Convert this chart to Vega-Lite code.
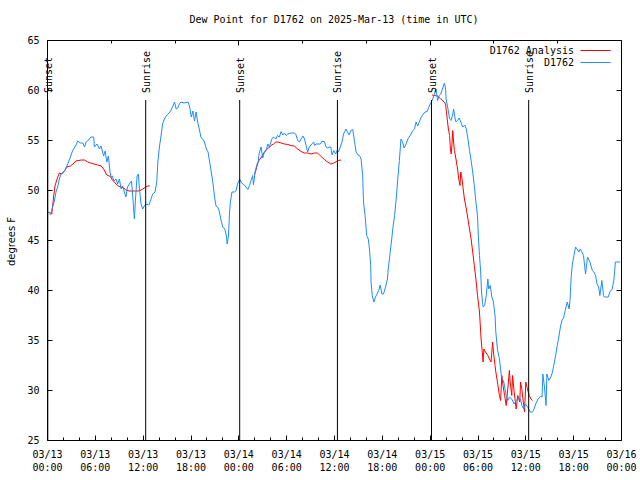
{
"$schema": "https://vega.github.io/schema/vega-lite/v6.json",
"width": 574, "height": 400,
"autosize": {"type": "none"},
"padding": {"left": 47, "top": 40, "right": 19, "bottom": 40},
"background": "white",
"title": {"text": "Dew Point for D1762 on 2025-Mar-13 (time in UTC)", "font": "DejaVu Sans Mono", "fontSize": 10, "fontWeight": "normal", "color": "black", "anchor": "middle", "offset": 10},
"config": {
  "view": {"stroke": "black", "strokeWidth": 1},
  "axis": {"domain": false, "grid": false, "labelFont": "DejaVu Sans Mono", "labelFontSize": 10, "labelColor": "black", "tickColor": "black", "labelFlush": false, "labelOverlap": false}
},
"datasets": {
"obs": [
{"h":0.3,"v":47.6,"s":"D1762 Analysis","g":"r1"},{"h":0.6,"v":47.6,"s":"D1762 Analysis","g":"r1"},{"h":0.84,"v":49.4,"s":"D1762 Analysis","g":"r1"},{"h":1.0,"v":50.4,"s":"D1762 Analysis","g":"r1"},{"h":1.26,"v":51.1,"s":"D1762 Analysis","g":"r1"},{"h":1.55,"v":51.7,"s":"D1762 Analysis","g":"r1"},{"h":1.84,"v":51.6,"s":"D1762 Analysis","g":"r1"},{"h":2.2,"v":51.9,"s":"D1762 Analysis","g":"r1"},{"h":2.5,"v":52.3,"s":"D1762 Analysis","g":"r1"},{"h":2.93,"v":52.4,"s":"D1762 Analysis","g":"r1"},{"h":3.4,"v":52.7,"s":"D1762 Analysis","g":"r1"},{"h":3.6,"v":52.9,"s":"D1762 Analysis","g":"r1"},{"h":4.3,"v":53.0,"s":"D1762 Analysis","g":"r1"},{"h":4.7,"v":53.0,"s":"D1762 Analysis","g":"r1"},{"h":5.1,"v":52.8,"s":"D1762 Analysis","g":"r1"},{"h":5.5,"v":52.7,"s":"D1762 Analysis","g":"r1"},{"h":5.9,"v":52.6,"s":"D1762 Analysis","g":"r1"},{"h":6.36,"v":52.5,"s":"D1762 Analysis","g":"r1"},{"h":6.8,"v":52.4,"s":"D1762 Analysis","g":"r1"},{"h":7.1,"v":52.1,"s":"D1762 Analysis","g":"r1"},{"h":7.3,"v":51.8,"s":"D1762 Analysis","g":"r1"},{"h":7.5,"v":51.5,"s":"D1762 Analysis","g":"r1"},{"h":7.8,"v":51.4,"s":"D1762 Analysis","g":"r1"},{"h":8.0,"v":51.3,"s":"D1762 Analysis","g":"r1"},{"h":8.2,"v":51.0,"s":"D1762 Analysis","g":"r1"},{"h":8.45,"v":50.8,"s":"D1762 Analysis","g":"r1"},{"h":8.66,"v":50.6,"s":"D1762 Analysis","g":"r1"},{"h":8.95,"v":50.4,"s":"D1762 Analysis","g":"r1"},{"h":9.3,"v":50.3,"s":"D1762 Analysis","g":"r1"},{"h":9.6,"v":50.2,"s":"D1762 Analysis","g":"r1"},{"h":9.9,"v":50.0,"s":"D1762 Analysis","g":"r1"},{"h":10.3,"v":49.9,"s":"D1762 Analysis","g":"r1"},{"h":10.96,"v":49.9,"s":"D1762 Analysis","g":"r1"},{"h":11.4,"v":49.9,"s":"D1762 Analysis","g":"r1"},{"h":11.8,"v":50.0,"s":"D1762 Analysis","g":"r1"},{"h":12.2,"v":50.2,"s":"D1762 Analysis","g":"r1"},{"h":12.6,"v":50.4,"s":"D1762 Analysis","g":"r1"},{"h":12.9,"v":50.4,"s":"D1762 Analysis","g":"r1"},
{"h":26.0,"v":51.5,"s":"D1762 Analysis","g":"r2"},{"h":26.2,"v":51.95,"s":"D1762 Analysis","g":"r2"},{"h":26.4,"v":52.6,"s":"D1762 Analysis","g":"r2"},{"h":26.6,"v":52.95,"s":"D1762 Analysis","g":"r2"},{"h":26.9,"v":53.3,"s":"D1762 Analysis","g":"r2"},{"h":27.2,"v":53.7,"s":"D1762 Analysis","g":"r2"},{"h":27.5,"v":54.05,"s":"D1762 Analysis","g":"r2"},{"h":27.8,"v":54.2,"s":"D1762 Analysis","g":"r2"},{"h":28.1,"v":54.45,"s":"D1762 Analysis","g":"r2"},{"h":28.4,"v":54.6,"s":"D1762 Analysis","g":"r2"},{"h":28.7,"v":54.8,"s":"D1762 Analysis","g":"r2"},{"h":29.0,"v":54.8,"s":"D1762 Analysis","g":"r2"},{"h":29.36,"v":54.7,"s":"D1762 Analysis","g":"r2"},{"h":29.8,"v":54.6,"s":"D1762 Analysis","g":"r2"},{"h":30.2,"v":54.55,"s":"D1762 Analysis","g":"r2"},{"h":30.6,"v":54.45,"s":"D1762 Analysis","g":"r2"},{"h":31.0,"v":54.4,"s":"D1762 Analysis","g":"r2"},{"h":31.45,"v":54.1,"s":"D1762 Analysis","g":"r2"},{"h":31.87,"v":53.85,"s":"D1762 Analysis","g":"r2"},{"h":32.3,"v":53.7,"s":"D1762 Analysis","g":"r2"},{"h":32.7,"v":53.7,"s":"D1762 Analysis","g":"r2"},{"h":33.1,"v":53.6,"s":"D1762 Analysis","g":"r2"},{"h":33.55,"v":53.7,"s":"D1762 Analysis","g":"r2"},{"h":33.9,"v":53.7,"s":"D1762 Analysis","g":"r2"},{"h":34.2,"v":53.5,"s":"D1762 Analysis","g":"r2"},{"h":34.46,"v":53.3,"s":"D1762 Analysis","g":"r2"},{"h":34.8,"v":53.05,"s":"D1762 Analysis","g":"r2"},{"h":35.1,"v":52.85,"s":"D1762 Analysis","g":"r2"},{"h":35.4,"v":52.7,"s":"D1762 Analysis","g":"r2"},{"h":35.6,"v":52.6,"s":"D1762 Analysis","g":"r2"},{"h":35.97,"v":52.7,"s":"D1762 Analysis","g":"r2"},{"h":36.3,"v":52.85,"s":"D1762 Analysis","g":"r2"},{"h":36.55,"v":52.95,"s":"D1762 Analysis","g":"r2"},{"h":36.9,"v":53.0,"s":"D1762 Analysis","g":"r2"},
{"h":48.3,"v":59.5,"s":"D1762 Analysis","g":"r3"},{"h":48.6,"v":59.45,"s":"D1762 Analysis","g":"r3"},{"h":49.0,"v":59.4,"s":"D1762 Analysis","g":"r3"},{"h":49.4,"v":59.1,"s":"D1762 Analysis","g":"r3"},{"h":49.8,"v":58.8,"s":"D1762 Analysis","g":"r3"},{"h":50.0,"v":58.6,"s":"D1762 Analysis","g":"r3"},{"h":50.06,"v":58.1,"s":"D1762 Analysis","g":"r3"},{"h":50.2,"v":57.1,"s":"D1762 Analysis","g":"r3"},{"h":50.35,"v":56.1,"s":"D1762 Analysis","g":"r3"},{"h":50.5,"v":55.45,"s":"D1762 Analysis","g":"r3"},{"h":50.6,"v":54.1,"s":"D1762 Analysis","g":"r3"},{"h":50.7,"v":53.6,"s":"D1762 Analysis","g":"r3"},{"h":50.8,"v":54.6,"s":"D1762 Analysis","g":"r3"},{"h":50.9,"v":55.95,"s":"D1762 Analysis","g":"r3"},{"h":51.0,"v":54.8,"s":"D1762 Analysis","g":"r3"},{"h":51.1,"v":53.95,"s":"D1762 Analysis","g":"r3"},{"h":51.3,"v":53.1,"s":"D1762 Analysis","g":"r3"},{"h":51.5,"v":52.1,"s":"D1762 Analysis","g":"r3"},{"h":51.65,"v":51.1,"s":"D1762 Analysis","g":"r3"},{"h":51.8,"v":50.45,"s":"D1762 Analysis","g":"r3"},{"h":51.9,"v":51.8,"s":"D1762 Analysis","g":"r3"},{"h":52.0,"v":51.45,"s":"D1762 Analysis","g":"r3"},{"h":52.15,"v":50.45,"s":"D1762 Analysis","g":"r3"},{"h":52.36,"v":49.1,"s":"D1762 Analysis","g":"r3"},{"h":52.6,"v":48.1,"s":"D1762 Analysis","g":"r3"},{"h":52.8,"v":47.1,"s":"D1762 Analysis","g":"r3"},{"h":53.0,"v":46.1,"s":"D1762 Analysis","g":"r3"},{"h":53.2,"v":45.1,"s":"D1762 Analysis","g":"r3"},{"h":53.4,"v":43.8,"s":"D1762 Analysis","g":"r3"},{"h":53.6,"v":42.45,"s":"D1762 Analysis","g":"r3"},{"h":53.8,"v":41.1,"s":"D1762 Analysis","g":"r3"},{"h":54.0,"v":39.45,"s":"D1762 Analysis","g":"r3"},{"h":54.25,"v":37.8,"s":"D1762 Analysis","g":"r3"},{"h":54.45,"v":35.1,"s":"D1762 Analysis","g":"r3"},{"h":54.6,"v":33.8,"s":"D1762 Analysis","g":"r3"},{"h":54.7,"v":32.8,"s":"D1762 Analysis","g":"r3"},{"h":54.8,"v":34.1,"s":"D1762 Analysis","g":"r3"},{"h":55.0,"v":33.8,"s":"D1762 Analysis","g":"r3"},{"h":55.3,"v":33.45,"s":"D1762 Analysis","g":"r3"},{"h":55.5,"v":33.1,"s":"D1762 Analysis","g":"r3"},{"h":55.7,"v":32.8,"s":"D1762 Analysis","g":"r3"},{"h":55.9,"v":34.8,"s":"D1762 Analysis","g":"r3"},{"h":56.0,"v":33.8,"s":"D1762 Analysis","g":"r3"},{"h":56.2,"v":32.45,"s":"D1762 Analysis","g":"r3"},{"h":56.3,"v":31.8,"s":"D1762 Analysis","g":"r3"},{"h":56.5,"v":30.8,"s":"D1762 Analysis","g":"r3"},{"h":56.75,"v":29.45,"s":"D1762 Analysis","g":"r3"},{"h":56.9,"v":28.95,"s":"D1762 Analysis","g":"r3"},{"h":57.05,"v":31.45,"s":"D1762 Analysis","g":"r3"},{"h":57.2,"v":30.45,"s":"D1762 Analysis","g":"r3"},{"h":57.4,"v":29.45,"s":"D1762 Analysis","g":"r3"},{"h":57.6,"v":28.45,"s":"D1762 Analysis","g":"r3"},{"h":57.8,"v":30.1,"s":"D1762 Analysis","g":"r3"},{"h":58.0,"v":31.95,"s":"D1762 Analysis","g":"r3"},{"h":58.1,"v":30.8,"s":"D1762 Analysis","g":"r3"},{"h":58.3,"v":29.45,"s":"D1762 Analysis","g":"r3"},{"h":58.4,"v":31.45,"s":"D1762 Analysis","g":"r3"},{"h":58.6,"v":29.8,"s":"D1762 Analysis","g":"r3"},{"h":58.85,"v":28.1,"s":"D1762 Analysis","g":"r3"},{"h":59.05,"v":29.45,"s":"D1762 Analysis","g":"r3"},{"h":59.3,"v":28.8,"s":"D1762 Analysis","g":"r3"},{"h":59.4,"v":30.8,"s":"D1762 Analysis","g":"r3"},{"h":59.56,"v":30.1,"s":"D1762 Analysis","g":"r3"},{"h":59.7,"v":29.1,"s":"D1762 Analysis","g":"r3"},{"h":59.9,"v":27.8,"s":"D1762 Analysis","g":"r3"},{"h":60.06,"v":30.8,"s":"D1762 Analysis","g":"r3"},{"h":60.3,"v":29.95,"s":"D1762 Analysis","g":"r3"},{"h":60.5,"v":29.45,"s":"D1762 Analysis","g":"r3"},{"h":60.7,"v":29.1,"s":"D1762 Analysis","g":"r3"},{"h":60.9,"v":28.95,"s":"D1762 Analysis","g":"r3"},
{"h":0.08,"v":47.8,"s":"D1762","g":"b"},{"h":0.5,"v":47.7,"s":"D1762","g":"b"},{"h":0.7,"v":48.3,"s":"D1762","g":"b"},{"h":0.9,"v":48.8,"s":"D1762","g":"b"},{"h":1.13,"v":49.8,"s":"D1762","g":"b"},{"h":1.34,"v":50.3,"s":"D1762","g":"b"},{"h":1.55,"v":51.1,"s":"D1762","g":"b"},{"h":1.76,"v":51.6,"s":"D1762","g":"b"},{"h":2.0,"v":51.8,"s":"D1762","g":"b"},{"h":2.26,"v":52.0,"s":"D1762","g":"b"},{"h":2.6,"v":52.6,"s":"D1762","g":"b"},{"h":2.93,"v":53.3,"s":"D1762","g":"b"},{"h":3.2,"v":53.9,"s":"D1762","g":"b"},{"h":3.64,"v":54.5,"s":"D1762","g":"b"},{"h":3.85,"v":54.9,"s":"D1762","g":"b"},{"h":4.2,"v":54.7,"s":"D1762","g":"b"},{"h":4.5,"v":54.7,"s":"D1762","g":"b"},{"h":4.7,"v":54.3,"s":"D1762","g":"b"},{"h":4.9,"v":54.8,"s":"D1762","g":"b"},{"h":5.1,"v":54.9,"s":"D1762","g":"b"},{"h":5.5,"v":55.3,"s":"D1762","g":"b"},{"h":5.86,"v":55.3,"s":"D1762","g":"b"},{"h":5.94,"v":54.3,"s":"D1762","g":"b"},{"h":6.28,"v":54.6,"s":"D1762","g":"b"},{"h":6.57,"v":54.1,"s":"D1762","g":"b"},{"h":6.78,"v":54.4,"s":"D1762","g":"b"},{"h":7.1,"v":53.4,"s":"D1762","g":"b"},{"h":7.3,"v":53.9,"s":"D1762","g":"b"},{"h":7.5,"v":52.8,"s":"D1762","g":"b"},{"h":7.7,"v":53.4,"s":"D1762","g":"b"},{"h":7.9,"v":51.8,"s":"D1762","g":"b"},{"h":8.03,"v":51.3,"s":"D1762","g":"b"},{"h":8.2,"v":51.4,"s":"D1762","g":"b"},{"h":8.4,"v":50.9,"s":"D1762","g":"b"},{"h":8.66,"v":51.1,"s":"D1762","g":"b"},{"h":8.87,"v":50.6,"s":"D1762","g":"b"},{"h":9.08,"v":51.1,"s":"D1762","g":"b"},{"h":9.3,"v":50.1,"s":"D1762","g":"b"},{"h":9.5,"v":50.4,"s":"D1762","g":"b"},{"h":9.7,"v":49.8,"s":"D1762","g":"b"},{"h":9.9,"v":49.3,"s":"D1762","g":"b"},{"h":10.1,"v":50.3,"s":"D1762","g":"b"},{"h":10.33,"v":50.6,"s":"D1762","g":"b"},{"h":10.6,"v":50.9,"s":"D1762","g":"b"},{"h":10.75,"v":49.4,"s":"D1762","g":"b"},{"h":10.96,"v":47.1,"s":"D1762","g":"b"},{"h":11.1,"v":49.1,"s":"D1762","g":"b"},{"h":11.3,"v":51.4,"s":"D1762","g":"b"},{"h":11.46,"v":51.6,"s":"D1762","g":"b"},{"h":11.6,"v":50.1,"s":"D1762","g":"b"},{"h":11.8,"v":48.6,"s":"D1762","g":"b"},{"h":12.0,"v":48.1,"s":"D1762","g":"b"},{"h":12.2,"v":48.4,"s":"D1762","g":"b"},{"h":12.4,"v":48.6,"s":"D1762","g":"b"},{"h":12.8,"v":48.5,"s":"D1762","g":"b"},{"h":13.05,"v":49.1,"s":"D1762","g":"b"},{"h":13.26,"v":49.6,"s":"D1762","g":"b"},{"h":13.55,"v":49.8,"s":"D1762","g":"b"},{"h":13.77,"v":50.8,"s":"D1762","g":"b"},{"h":13.9,"v":52.8,"s":"D1762","g":"b"},{"h":14.1,"v":54.3,"s":"D1762","g":"b"},{"h":14.3,"v":55.4,"s":"D1762","g":"b"},{"h":14.5,"v":56.6,"s":"D1762","g":"b"},{"h":14.73,"v":57.1,"s":"D1762","g":"b"},{"h":14.94,"v":57.4,"s":"D1762","g":"b"},{"h":15.2,"v":57.6,"s":"D1762","g":"b"},{"h":15.5,"v":57.9,"s":"D1762","g":"b"},{"h":15.8,"v":58.4,"s":"D1762","g":"b"},{"h":16.0,"v":58.8,"s":"D1762","g":"b"},{"h":16.2,"v":58.1,"s":"D1762","g":"b"},{"h":16.4,"v":58.2,"s":"D1762","g":"b"},{"h":16.6,"v":58.6,"s":"D1762","g":"b"},{"h":16.8,"v":58.8,"s":"D1762","g":"b"},{"h":17.2,"v":58.7,"s":"D1762","g":"b"},{"h":17.7,"v":58.8,"s":"D1762","g":"b"},{"h":17.9,"v":58.3,"s":"D1762","g":"b"},{"h":18.1,"v":57.3,"s":"D1762","g":"b"},{"h":18.3,"v":57.9,"s":"D1762","g":"b"},{"h":18.5,"v":56.9,"s":"D1762","g":"b"},{"h":18.7,"v":57.8,"s":"D1762","g":"b"},{"h":18.9,"v":56.8,"s":"D1762","g":"b"},{"h":19.1,"v":56.1,"s":"D1762","g":"b"},{"h":19.3,"v":55.3,"s":"D1762","g":"b"},{"h":19.7,"v":54.9,"s":"D1762","g":"b"},{"h":20.0,"v":54.1,"s":"D1762","g":"b"},{"h":20.2,"v":53.8,"s":"D1762","g":"b"},{"h":20.4,"v":52.8,"s":"D1762","g":"b"},{"h":20.6,"v":51.8,"s":"D1762","g":"b"},{"h":20.8,"v":50.8,"s":"D1762","g":"b"},{"h":21.0,"v":49.4,"s":"D1762","g":"b"},{"h":21.2,"v":48.4,"s":"D1762","g":"b"},{"h":21.4,"v":48.3,"s":"D1762","g":"b"},{"h":21.6,"v":47.9,"s":"D1762","g":"b"},{"h":21.8,"v":47.1,"s":"D1762","g":"b"},{"h":22.05,"v":46.3,"s":"D1762","g":"b"},{"h":22.3,"v":46.1,"s":"D1762","g":"b"},{"h":22.5,"v":45.4,"s":"D1762","g":"b"},{"h":22.6,"v":44.6,"s":"D1762","g":"b"},{"h":22.76,"v":45.4,"s":"D1762","g":"b"},{"h":22.9,"v":47.8,"s":"D1762","g":"b"},{"h":23.0,"v":48.8,"s":"D1762","g":"b"},{"h":23.2,"v":49.8,"s":"D1762","g":"b"},{"h":23.5,"v":49.8,"s":"D1762","g":"b"},{"h":23.7,"v":49.9,"s":"D1762","g":"b"},{"h":23.9,"v":50.6,"s":"D1762","g":"b"},
{"h":24.17,"v":51.1,"s":"D1762","g":"b"},{"h":24.4,"v":50.7,"s":"D1762","g":"b"},{"h":24.76,"v":50.5,"s":"D1762","g":"b"},{"h":25.2,"v":50.05,"s":"D1762","g":"b"},{"h":25.4,"v":50.45,"s":"D1762","g":"b"},{"h":25.6,"v":50.95,"s":"D1762","g":"b"},{"h":25.8,"v":51.45,"s":"D1762","g":"b"},{"h":25.9,"v":50.5,"s":"D1762","g":"b"},{"h":26.1,"v":51.8,"s":"D1762","g":"b"},{"h":26.35,"v":52.6,"s":"D1762","g":"b"},{"h":26.5,"v":52.85,"s":"D1762","g":"b"},{"h":26.6,"v":53.6,"s":"D1762","g":"b"},{"h":26.85,"v":54.3,"s":"D1762","g":"b"},{"h":27.06,"v":53.2,"s":"D1762","g":"b"},{"h":27.27,"v":53.8,"s":"D1762","g":"b"},{"h":27.5,"v":53.95,"s":"D1762","g":"b"},{"h":27.7,"v":54.6,"s":"D1762","g":"b"},{"h":27.9,"v":54.3,"s":"D1762","g":"b"},{"h":28.2,"v":55.1,"s":"D1762","g":"b"},{"h":28.4,"v":55.3,"s":"D1762","g":"b"},{"h":28.7,"v":55.1,"s":"D1762","g":"b"},{"h":28.9,"v":55.45,"s":"D1762","g":"b"},{"h":29.15,"v":55.3,"s":"D1762","g":"b"},{"h":29.36,"v":55.85,"s":"D1762","g":"b"},{"h":29.57,"v":55.5,"s":"D1762","g":"b"},{"h":29.8,"v":55.7,"s":"D1762","g":"b"},{"h":30.0,"v":55.45,"s":"D1762","g":"b"},{"h":30.2,"v":55.6,"s":"D1762","g":"b"},{"h":30.6,"v":55.7,"s":"D1762","g":"b"},{"h":31.0,"v":55.7,"s":"D1762","g":"b"},{"h":31.2,"v":55.6,"s":"D1762","g":"b"},{"h":31.45,"v":54.95,"s":"D1762","g":"b"},{"h":31.66,"v":54.8,"s":"D1762","g":"b"},{"h":31.87,"v":55.1,"s":"D1762","g":"b"},{"h":32.1,"v":55.4,"s":"D1762","g":"b"},{"h":32.3,"v":55.1,"s":"D1762","g":"b"},{"h":32.5,"v":54.45,"s":"D1762","g":"b"},{"h":32.7,"v":53.8,"s":"D1762","g":"b"},{"h":32.9,"v":54.3,"s":"D1762","g":"b"},{"h":33.2,"v":54.6,"s":"D1762","g":"b"},{"h":33.46,"v":54.8,"s":"D1762","g":"b"},{"h":33.55,"v":54.45,"s":"D1762","g":"b"},{"h":33.75,"v":54.6,"s":"D1762","g":"b"},{"h":34.0,"v":54.6,"s":"D1762","g":"b"},{"h":34.3,"v":54.6,"s":"D1762","g":"b"},{"h":34.46,"v":54.85,"s":"D1762","g":"b"},{"h":34.8,"v":54.85,"s":"D1762","g":"b"},{"h":35.0,"v":54.3,"s":"D1762","g":"b"},{"h":35.2,"v":54.2,"s":"D1762","g":"b"},{"h":35.4,"v":54.3,"s":"D1762","g":"b"},{"h":35.6,"v":54.3,"s":"D1762","g":"b"},{"h":35.76,"v":53.5,"s":"D1762","g":"b"},{"h":35.97,"v":53.95,"s":"D1762","g":"b"},{"h":36.2,"v":53.6,"s":"D1762","g":"b"},{"h":36.4,"v":53.95,"s":"D1762","g":"b"},{"h":36.55,"v":53.8,"s":"D1762","g":"b"},{"h":36.8,"v":54.3,"s":"D1762","g":"b"},{"h":37.0,"v":54.8,"s":"D1762","g":"b"},{"h":37.2,"v":55.6,"s":"D1762","g":"b"},{"h":37.5,"v":56.1,"s":"D1762","g":"b"},{"h":37.7,"v":55.8,"s":"D1762","g":"b"},{"h":37.9,"v":55.5,"s":"D1762","g":"b"},{"h":38.1,"v":55.95,"s":"D1762","g":"b"},{"h":38.35,"v":56.05,"s":"D1762","g":"b"},{"h":38.56,"v":54.95,"s":"D1762","g":"b"},{"h":38.77,"v":53.8,"s":"D1762","g":"b"},{"h":39.0,"v":53.5,"s":"D1762","g":"b"},{"h":39.2,"v":53.45,"s":"D1762","g":"b"},{"h":39.4,"v":53.1,"s":"D1762","g":"b"},{"h":39.6,"v":51.45,"s":"D1762","g":"b"},{"h":39.7,"v":48.8,"s":"D1762","g":"b"},{"h":39.9,"v":47.45,"s":"D1762","g":"b"},{"h":40.1,"v":45.45,"s":"D1762","g":"b"},{"h":40.3,"v":45.1,"s":"D1762","g":"b"},{"h":40.45,"v":44.1,"s":"D1762","g":"b"},{"h":40.6,"v":42.45,"s":"D1762","g":"b"},{"h":40.65,"v":40.8,"s":"D1762","g":"b"},{"h":40.8,"v":39.45,"s":"D1762","g":"b"},{"h":41.0,"v":38.8,"s":"D1762","g":"b"},{"h":41.2,"v":39.3,"s":"D1762","g":"b"},{"h":41.4,"v":39.6,"s":"D1762","g":"b"},{"h":41.6,"v":39.95,"s":"D1762","g":"b"},{"h":41.8,"v":40.5,"s":"D1762","g":"b"},{"h":42.0,"v":39.6,"s":"D1762","g":"b"},{"h":42.2,"v":39.6,"s":"D1762","g":"b"},{"h":42.4,"v":40.1,"s":"D1762","g":"b"},{"h":42.7,"v":41.1,"s":"D1762","g":"b"},{"h":42.8,"v":42.1,"s":"D1762","g":"b"},{"h":43.0,"v":43.45,"s":"D1762","g":"b"},{"h":43.2,"v":44.8,"s":"D1762","g":"b"},{"h":43.4,"v":46.3,"s":"D1762","g":"b"},{"h":43.6,"v":47.45,"s":"D1762","g":"b"},{"h":43.8,"v":49.1,"s":"D1762","g":"b"},{"h":44.0,"v":51.1,"s":"D1762","g":"b"},{"h":44.2,"v":52.95,"s":"D1762","g":"b"},{"h":44.4,"v":55.1,"s":"D1762","g":"b"},{"h":44.6,"v":54.8,"s":"D1762","g":"b"},{"h":44.8,"v":54.2,"s":"D1762","g":"b"},{"h":45.05,"v":54.6,"s":"D1762","g":"b"},{"h":45.26,"v":55.1,"s":"D1762","g":"b"},{"h":45.6,"v":55.5,"s":"D1762","g":"b"},{"h":45.9,"v":55.95,"s":"D1762","g":"b"},{"h":46.1,"v":56.1,"s":"D1762","g":"b"},{"h":46.3,"v":56.8,"s":"D1762","g":"b"},{"h":46.5,"v":56.4,"s":"D1762","g":"b"},{"h":46.7,"v":56.8,"s":"D1762","g":"b"},{"h":46.9,"v":57.2,"s":"D1762","g":"b"},{"h":47.1,"v":57.5,"s":"D1762","g":"b"},{"h":47.4,"v":57.8,"s":"D1762","g":"b"},{"h":47.7,"v":57.85,"s":"D1762","g":"b"},{"h":47.9,"v":58.3,"s":"D1762","g":"b"},
{"h":48.2,"v":58.8,"s":"D1762","g":"b"},{"h":48.4,"v":59.1,"s":"D1762","g":"b"},{"h":48.6,"v":59.6,"s":"D1762","g":"b"},{"h":48.8,"v":60.1,"s":"D1762","g":"b"},{"h":49.0,"v":58.95,"s":"D1762","g":"b"},{"h":49.2,"v":59.45,"s":"D1762","g":"b"},{"h":49.4,"v":59.6,"s":"D1762","g":"b"},{"h":49.6,"v":60.1,"s":"D1762","g":"b"},{"h":49.85,"v":60.7,"s":"D1762","g":"b"},{"h":50.0,"v":60.1,"s":"D1762","g":"b"},{"h":50.06,"v":59.1,"s":"D1762","g":"b"},{"h":50.3,"v":58.1,"s":"D1762","g":"b"},{"h":50.5,"v":57.1,"s":"D1762","g":"b"},{"h":50.7,"v":56.95,"s":"D1762","g":"b"},{"h":50.9,"v":57.6,"s":"D1762","g":"b"},{"h":51.0,"v":58.1,"s":"D1762","g":"b"},{"h":51.2,"v":57.1,"s":"D1762","g":"b"},{"h":51.3,"v":56.8,"s":"D1762","g":"b"},{"h":51.5,"v":56.95,"s":"D1762","g":"b"},{"h":51.7,"v":57.2,"s":"D1762","g":"b"},{"h":51.9,"v":56.8,"s":"D1762","g":"b"},{"h":52.15,"v":56.3,"s":"D1762","g":"b"},{"h":52.4,"v":56.5,"s":"D1762","g":"b"},{"h":52.6,"v":56.1,"s":"D1762","g":"b"},{"h":52.8,"v":55.1,"s":"D1762","g":"b"},{"h":53.0,"v":53.95,"s":"D1762","g":"b"},{"h":53.2,"v":52.95,"s":"D1762","g":"b"},{"h":53.4,"v":51.8,"s":"D1762","g":"b"},{"h":53.6,"v":50.45,"s":"D1762","g":"b"},{"h":53.8,"v":48.8,"s":"D1762","g":"b"},{"h":54.0,"v":47.45,"s":"D1762","g":"b"},{"h":54.1,"v":45.45,"s":"D1762","g":"b"},{"h":54.25,"v":43.45,"s":"D1762","g":"b"},{"h":54.4,"v":41.8,"s":"D1762","g":"b"},{"h":54.5,"v":39.8,"s":"D1762","g":"b"},{"h":54.7,"v":38.3,"s":"D1762","g":"b"},{"h":54.9,"v":38.45,"s":"D1762","g":"b"},{"h":55.1,"v":39.45,"s":"D1762","g":"b"},{"h":55.3,"v":41.1,"s":"D1762","g":"b"},{"h":55.4,"v":40.1,"s":"D1762","g":"b"},{"h":55.6,"v":40.45,"s":"D1762","g":"b"},{"h":55.8,"v":39.3,"s":"D1762","g":"b"},{"h":56.0,"v":38.8,"s":"D1762","g":"b"},{"h":56.2,"v":37.45,"s":"D1762","g":"b"},{"h":56.3,"v":35.8,"s":"D1762","g":"b"},{"h":56.5,"v":34.1,"s":"D1762","g":"b"},{"h":56.75,"v":33.1,"s":"D1762","g":"b"},{"h":56.9,"v":32.1,"s":"D1762","g":"b"},{"h":57.0,"v":31.3,"s":"D1762","g":"b"},{"h":57.3,"v":30.8,"s":"D1762","g":"b"},{"h":57.6,"v":29.45,"s":"D1762","g":"b"},{"h":57.8,"v":28.95,"s":"D1762","g":"b"},{"h":58.0,"v":29.3,"s":"D1762","g":"b"},{"h":58.3,"v":29.1,"s":"D1762","g":"b"},{"h":58.6,"v":28.6,"s":"D1762","g":"b"},{"h":58.85,"v":28.95,"s":"D1762","g":"b"},{"h":59.1,"v":29.2,"s":"D1762","g":"b"},{"h":59.4,"v":29.1,"s":"D1762","g":"b"},{"h":59.56,"v":28.45,"s":"D1762","g":"b"},{"h":59.8,"v":28.1,"s":"D1762","g":"b"},{"h":60.0,"v":28.6,"s":"D1762","g":"b"},{"h":60.3,"v":28.3,"s":"D1762","g":"b"},{"h":60.6,"v":27.8,"s":"D1762","g":"b"},{"h":60.9,"v":27.8,"s":"D1762","g":"b"},{"h":61.1,"v":28.1,"s":"D1762","g":"b"},{"h":61.3,"v":28.6,"s":"D1762","g":"b"},{"h":61.6,"v":29.1,"s":"D1762","g":"b"},{"h":61.9,"v":29.35,"s":"D1762","g":"b"},{"h":62.1,"v":29.3,"s":"D1762","g":"b"},{"h":62.2,"v":31.6,"s":"D1762","g":"b"},{"h":62.4,"v":30.3,"s":"D1762","g":"b"},{"h":62.6,"v":28.45,"s":"D1762","g":"b"},{"h":62.7,"v":31.6,"s":"D1762","g":"b"},{"h":62.95,"v":30.95,"s":"D1762","g":"b"},{"h":63.2,"v":31.3,"s":"D1762","g":"b"},{"h":63.4,"v":31.8,"s":"D1762","g":"b"},{"h":63.6,"v":32.6,"s":"D1762","g":"b"},{"h":63.8,"v":33.45,"s":"D1762","g":"b"},{"h":64.0,"v":34.45,"s":"D1762","g":"b"},{"h":64.2,"v":35.3,"s":"D1762","g":"b"},{"h":64.4,"v":36.3,"s":"D1762","g":"b"},{"h":64.6,"v":37.0,"s":"D1762","g":"b"},{"h":64.8,"v":37.2,"s":"D1762","g":"b"},{"h":65.0,"v":37.95,"s":"D1762","g":"b"},{"h":65.25,"v":38.8,"s":"D1762","g":"b"},{"h":65.5,"v":38.1,"s":"D1762","g":"b"},{"h":65.6,"v":38.95,"s":"D1762","g":"b"},{"h":65.75,"v":41.3,"s":"D1762","g":"b"},{"h":65.9,"v":42.6,"s":"D1762","g":"b"},{"h":66.1,"v":43.45,"s":"D1762","g":"b"},{"h":66.3,"v":44.3,"s":"D1762","g":"b"},{"h":66.5,"v":44.1,"s":"D1762","g":"b"},{"h":66.7,"v":43.8,"s":"D1762","g":"b"},{"h":66.9,"v":44.1,"s":"D1762","g":"b"},{"h":67.1,"v":43.8,"s":"D1762","g":"b"},{"h":67.3,"v":43.45,"s":"D1762","g":"b"},{"h":67.55,"v":41.6,"s":"D1762","g":"b"},{"h":67.8,"v":43.3,"s":"D1762","g":"b"},{"h":68.1,"v":42.8,"s":"D1762","g":"b"},{"h":68.4,"v":41.95,"s":"D1762","g":"b"},{"h":68.6,"v":41.8,"s":"D1762","g":"b"},{"h":68.8,"v":41.45,"s":"D1762","g":"b"},{"h":69.0,"v":40.6,"s":"D1762","g":"b"},{"h":69.2,"v":40.3,"s":"D1762","g":"b"},{"h":69.35,"v":39.45,"s":"D1762","g":"b"},{"h":69.6,"v":40.95,"s":"D1762","g":"b"},{"h":69.8,"v":39.45,"s":"D1762","g":"b"},{"h":69.9,"v":39.3,"s":"D1762","g":"b"},{"h":70.4,"v":39.3,"s":"D1762","g":"b"},{"h":70.6,"v":39.8,"s":"D1762","g":"b"},{"h":70.9,"v":40.1,"s":"D1762","g":"b"},{"h":71.1,"v":40.95,"s":"D1762","g":"b"},{"h":71.3,"v":42.8,"s":"D1762","g":"b"},{"h":71.9,"v":42.8,"s":"D1762","g":"b"}
],
"sun": [
{"h":0.1,"e":"Sunset"},{"h":12.38,"e":"Sunrise"},{"h":24.17,"e":"Sunset"},{"h":36.43,"e":"Sunrise"},{"h":48.23,"e":"Sunset"},{"h":60.42,"e":"Sunrise"}
]
},
"layer": [
{
  "data": {"name": "obs"},
  "mark": {"type": "line", "strokeWidth": 1},
  "encoding": {
    "x": {"field": "h", "type": "quantitative",
      "scale": {"domain": [0, 72], "nice": false, "zero": false},
      "axis": {"orient": "bottom", "title": null, "values": [0,2,4,6,8,10,12,14,16,18,20,22,24,26,28,30,32,34,36,38,40,42,44,46,48,50,52,54,56,58,60,62,64,66,68,70,72],
        "tickSize": {"condition": {"test": "datum.value % 6 === 0", "value": -5}, "value": -3},
        "labelExpr": "datum.value % 6 === 0 ? ['03/' + (13 + floor(datum.value / 24)), (datum.value % 24 < 10 ? '0' : '') + (datum.value % 24) + ':00'] : ''",
        "labelBaseline": "top", "labelLineHeight": 13, "labelPadding": 14}},
    "y": {"field": "v", "type": "quantitative",
      "scale": {"domain": [25, 65], "nice": false, "zero": false},
      "axis": {"orient": "left", "values": [25, 30, 35, 40, 45, 50, 55, 60, 65], "tickSize": -5, "labelPadding": 13,
        "title": "degrees F", "titleFont": "DejaVu Sans", "titleFontSize": 10, "titleFontWeight": "normal", "titleColor": "black",
        "titleAngle": 270, "titleX": -36, "titleY": 201, "titleAlign": "center", "titleBaseline": "middle"}},
    "color": {"field": "s", "type": "nominal",
      "scale": {"domain": ["D1762 Analysis", "D1762"], "range": ["#ff0000", "#1e8cff"]},
      "legend": {"orient": "none", "legendX": 440, "legendY": 5, "title": null, "direction": "vertical", "padding": 0,
        "symbolType": "M-3,0H3", "symbolSize": 100, "symbolStrokeWidth": 1, "symbolOffset": 103,
        "labelAlign": "right", "labelOffset": -27, "labelFont": "DejaVu Sans Mono", "labelFontSize": 10, "labelColor": "black", "rowPadding": 1}},
    "detail": {"field": "g", "type": "nominal"}
  }
},
{
  "data": {"name": "sun"},
  "layer": [
    {
      "mark": {"type": "rule", "color": "black", "strokeWidth": 1},
      "encoding": {
        "x": {"field": "h", "type": "quantitative",
          "axis": {"orient": "top", "title": null, "labels": false, "values": [0,2,4,6,8,10,12,14,16,18,20,22,24,26,28,30,32,34,36,38,40,42,44,46,48,50,52,54,56,58,60,62,64,66,68,70,72],
            "tickSize": {"condition": {"test": "datum.value % 6 === 0", "value": -5}, "value": -3}}},
        "y": {"datum": 25, "type": "quantitative",
          "axis": {"orient": "right", "title": null, "labels": false, "values": [25, 30, 35, 40, 45, 50, 55, 60, 65], "tickSize": -5}},
        "y2": {"datum": 59}
      }
    },
    {
      "mark": {"type": "text", "angle": 270, "align": "left", "baseline": "middle", "dy": 1, "font": "DejaVu Sans Mono", "fontSize": 10, "color": "black"},
      "encoding": {
        "x": {"field": "h", "type": "quantitative"},
        "y": {"datum": 59.7, "type": "quantitative"},
        "text": {"field": "e", "type": "nominal"}
      }
    }
  ]
}
],
"resolve": {"axis": {"x": "independent", "y": "independent"}}
}
